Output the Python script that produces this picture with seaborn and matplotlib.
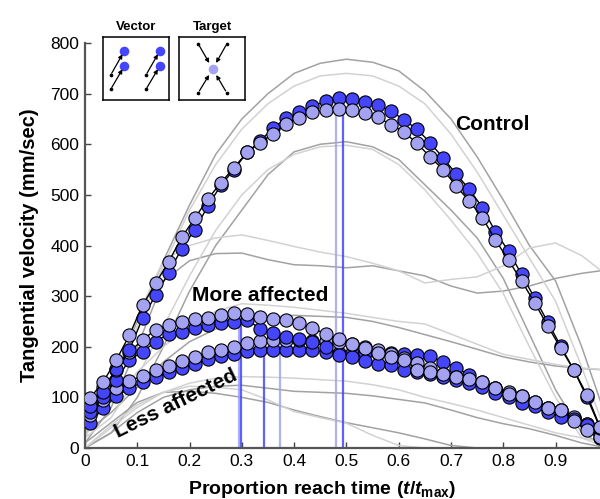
import numpy as np
import pandas as pd
import matplotlib
matplotlib.use("Agg")
import matplotlib.pyplot as plt
import seaborn as sns

# === 1. Data ===
# group means, sampled every 0.025 of normalised reach time
t_mean = np.round(0.01 + 0.025 * np.arange(40), 3)

control_vector = [82, 111, 157, 194, 256, 302, 346, 394, 431, 478, 519, 550, 584, 606, 633, 651, 663, 675, 685, 691,
                  689, 684, 677, 666, 648, 630, 603, 573, 541, 511, 475, 427, 389, 343, 296, 249, 201, 154, 100, 40]
control_target = [99, 131, 174, 223, 282, 325, 368, 416, 454, 492, 524, 554, 584, 603, 621, 640, 652, 663, 668, 669,
                  668, 661, 653, 639, 624, 602, 575, 550, 517, 488, 455, 411, 371, 330, 287, 241, 197, 154, 105, 42]
more_vector = [72, 100, 135, 174, 190, 210, 226, 230, 238, 243, 246, 248, 253, 236, 228, 220, 216, 210, 200, 184,
               179, 172, 165, 164, 154, 150, 146, 140, 134, 128, 121, 109, 100, 89, 82, 72, 62, 58, 45, 20]
more_target = [88, 120, 155, 190, 213, 234, 243, 249, 254, 256, 263, 266, 265, 259, 254, 253, 246, 237, 225, 215,
               205, 197, 187, 179, 174, 155, 150, 147, 141, 136, 130, 119, 107, 103, 91, 80, 76, 54, 35, 22]
less_vector = [50, 80, 102, 118, 130, 140, 150, 158, 165, 176, 182, 186, 192, 194, 194, 194, 194, 193, 190, 188,
               188, 188, 188, 188, 186, 184, 181, 170, 159, 144, 130, 118, 108, 100, 89, 80, 70, 60, 47, 28]
less_target = [65, 95, 118, 133, 142, 154, 161, 172, 179, 190, 194, 200, 207, 211, 213, 214, 213, 212, 211, 210,
               205, 199, 193, 186, 178, 168, 158, 147, 141, 134, 127, 119, 110, 103, 91, 80, 76, 62, 47, 30]

# peak velocity times (vertical markers)
peak_t = [0.481, 0.493, 0.295, 0.299, 0.342, 0.373]
peak_v = [669, 691, 266, 253, 194, 214]
peak_kind = ["Target", "Vector", "Target", "Vector", "Vector", "Target"]

# individual subjects, sampled every 0.05
t_subj = np.round(np.arange(21) * 0.05, 2)
ctrl_1 = [40, 130, 250, 370, 480, 580, 650, 700, 740, 760, 768, 762, 745, 705, 650, 575, 490, 400, 330, 200, 50]
ctrl_2 = [30, 120, 240, 360, 470, 560, 630, 680, 715, 735, 740, 735, 715, 680, 620, 545, 460, 375, 290, 160, 20]
ctrl_3 = [0, 30, 100, 200, 310, 400, 470, 540, 585, 600, 605, 595, 570, 520, 470, 415, 335, 225, 115, 30, 0]
ctrl_4 = [20, 60, 140, 240, 340, 430, 500, 550, 580, 595, 598, 590, 560, 510, 450, 385, 305, 200, 100, 20, 0]
pat_1 = [20, 120, 260, 370, 400, 415, 421, 410, 398, 387, 378, 365, 350, 326, 333, 338, 360, 395, 405, 380, 340]
pat_2 = [10, 80, 200, 330, 370, 384, 385, 372, 362, 360, 356, 360, 350, 340, 320, 306, 310, 320, 335, 345, 352]
pat_3 = [40, 90, 150, 200, 240, 270, 285, 282, 278, 272, 266, 258, 250, 245, 225, 205, 185, 175, 165, 158, 154]
pat_4 = [30, 70, 120, 170, 210, 235, 250, 258, 262, 260, 258, 250, 238, 224, 210, 195, 180, 170, 162, 157, 154]
pat_5 = [0, 40, 80, 110, 128, 138, 141, 140, 138, 135, 132, 125, 115, 100, 88, 75, 60, 45, 30, 20, 10]
pat_6 = [0, 30, 70, 100, 115, 122, 124, 118, 112, 110, 108, 103, 96, 89, 75, 60, 48, 38, 25, 10, 0]
pat_7 = [0, 45, 85, 110, 122, 120, 115, 95, 72, 60, 49, 25, 5, 0, 0, 0, 0, 0, 0, 0, 0]
pat_8 = [10, 50, 90, 110, 112, 108, 100, 90, 75, 62, 50, 40, 30, 18, 5, 0, 0, 0, 0, 0, 0]

subj_names = ["ctrl_1", "ctrl_2", "ctrl_3", "ctrl_4", "pat_1", "pat_2", "pat_3", "pat_4",
              "pat_5", "pat_6", "pat_7", "pat_8"]
subj_values = [ctrl_1, ctrl_2, ctrl_3, ctrl_4, pat_1, pat_2, pat_3, pat_4, pat_5, pat_6, pat_7, pat_8]
subj_shade = ["medium", "light", "medium", "light", "light", "medium", "light", "medium",
              "light", "medium", "light", "medium"]

# inset icons (pixel units inside each 66 x 63 box, y downwards)
vec_start_x = [7.4, 7.4, 42.7, 42.7]
vec_start_y = [37.7, 52.0, 37.7, 52.0]
vec_end_x = [21.0, 21.0, 56.4, 56.4]
vec_end_y = [13.4, 28.4, 13.4, 28.4]
tgt_start_x = [19.0, 47.4, 19.0, 47.4]
tgt_start_y = [6.7, 6.7, 55.4, 55.4]
tgt_end_x = 33.4
tgt_end_y = 31.7

# === 2. Long tables for seaborn ===
subj_df = pd.DataFrame({
    "t": np.tile(t_subj, len(subj_names)),
    "v": np.concatenate(subj_values),
    "subject": np.repeat(subj_names, len(t_subj)),
    "shade": np.repeat(subj_shade, len(t_subj)),
})

dark_blue = "#4545fb"
light_blue = "#a3a3f2"
colours = {"Vector": dark_blue, "Target": light_blue}

# === 3. Figure ===
sns.set_style("ticks")
plt.rcParams["font.family"] = ["Liberation Sans", "DejaVu Sans"]
plt.rcParams["text.color"] = "black"
plt.rcParams["axes.labelcolor"] = "black"
plt.rcParams["xtick.labelcolor"] = "black"
plt.rcParams["ytick.labelcolor"] = "black"
plt.rcParams["mathtext.fontset"] = "custom"
plt.rcParams["mathtext.it"] = "Liberation Sans:italic:bold"
plt.rcParams["mathtext.rm"] = "Liberation Sans:bold"

fig = plt.figure(figsize=(6.0, 4.99), dpi=100)
ax = fig.add_axes([85 / 600, 51 / 499, 515 / 600, 405 / 499])

sns.lineplot(data=subj_df, x="t", y="v", units="subject", hue="shade", estimator=None,
             palette={"light": "#d2d2d2", "medium": "#a2a2a2"}, lw=1.1, legend=False, ax=ax, zorder=1)

ax.vlines(peak_t, 0, peak_v, colors=[colours[k] for k in peak_kind], lw=1.6, alpha=0.85, zorder=2)

for vals, kind in [(less_vector, "Vector"), (less_target, "Target"),
                   (more_vector, "Vector"), (more_target, "Target"),
                   (control_vector, "Vector"), (control_target, "Target")]:
    sns.lineplot(x=t_mean, y=vals, color="black", lw=1.0, marker="o", markersize=9.5,
                 markerfacecolor=colours[kind], markeredgecolor="black", markeredgewidth=0.8,
                 ax=ax, zorder=3)

ax.set_xlim(0, 0.985)
ax.set_ylim(0, 800)
ax.set_xticks(np.arange(10) / 10)
ax.set_xticklabels(["0", "0.1", "0.2", "0.3", "0.4", "0.5", "0.6", "0.7", "0.8", "0.9"])
ax.set_yticks(range(0, 801, 100))
ax.tick_params(direction="in", length=4, width=1, color="#444444", labelcolor="black",
               labelsize=12.5, pad=4)
for side in ["top", "right"]:
    ax.spines[side].set_visible(False)
for side in ["left", "bottom"]:
    ax.spines[side].set_color("#555555")
    ax.spines[side].set_linewidth(1.6)

ax.set_xlabel("")
ax.set_ylabel("Tangential velocity (mm/sec)", fontsize=14.5, fontweight="bold", labelpad=8, color="black")
fig.text(322 / 600, 1 - 490 / 499, r"Proportion reach time ($t$/$t_{\mathrm{max}}$)",
         fontsize=14, fontweight="bold", ha="center", va="center", color="black")

ax.text(0.78, 640, "Control", fontsize=15, fontweight="bold", ha="center", va="center", color="black")
ax.text(0.336, 301, "More affected", fontsize=15, fontweight="bold", ha="center", va="center", color="black")
ax.text(0.174, 88, "Less affected", fontsize=15, fontweight="bold", ha="center", va="center",
        rotation=26, color="black")

# === 4. Inset icons ===
box_w, box_h = 65.7, 62.7
for left, title in [(103.3, "Vector"), (179.3, "Target")]:
    ins = fig.add_axes([left / 600, 1 - (37.3 + box_h) / 499, box_w / 600, box_h / 499])
    ins.set_xlim(0, box_w)
    ins.set_ylim(box_h, 0)
    ins.set_xticks([])
    ins.set_yticks([])
    for s in ins.spines.values():
        s.set_linewidth(1.1)
        s.set_color("black")
    ins.set_title(title, fontsize=9.5, fontweight="bold", pad=5, color="black")
    if title == "Vector":
        for x0, y0, x1, y1 in zip(vec_start_x, vec_start_y, vec_end_x, vec_end_y):
            ins.annotate("", xy=(x1 - 1.8, y1 + 3.5), xytext=(x0, y0),
                         arrowprops=dict(arrowstyle="-|>", color="black", lw=0.9, mutation_scale=6,
                                         shrinkA=1.5, shrinkB=0))
        sns.scatterplot(x=vec_start_x, y=vec_start_y, color="black", s=7, linewidth=0, ax=ins)
        sns.scatterplot(x=vec_end_x, y=vec_end_y, color=dark_blue, s=48, linewidth=0, ax=ins)
    else:
        for x0, y0 in zip(tgt_start_x, tgt_start_y):
            ins.annotate("", xy=(tgt_end_x, tgt_end_y), xytext=(x0, y0),
                         arrowprops=dict(arrowstyle="-|>", color="black", lw=0.9, mutation_scale=6,
                                         shrinkA=1.5, shrinkB=5))
        sns.scatterplot(x=tgt_start_x, y=tgt_start_y, color="black", s=7, linewidth=0, ax=ins)
        sns.scatterplot(x=[tgt_end_x], y=[tgt_end_y], color=light_blue, s=48, linewidth=0, ax=ins)
    ins.set_xlabel("")
    ins.set_ylabel("")

fig.savefig("out.png", dpi=100)
